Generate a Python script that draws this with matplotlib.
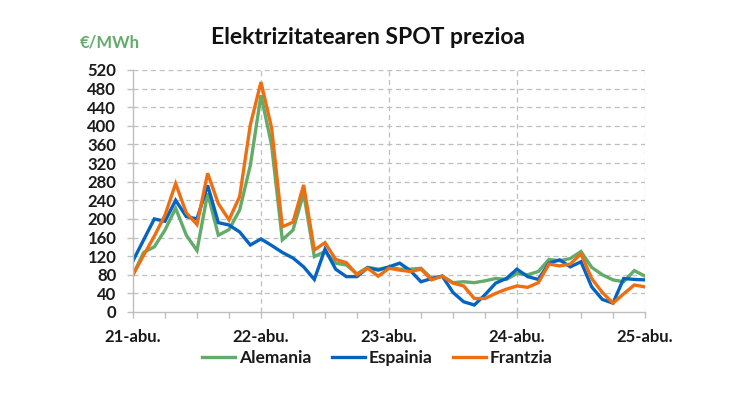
import matplotlib.pyplot as plt
import numpy as np

plt.rcParams['font.family'] = ['Lato', 'DejaVu Sans']

# two-hourly prices, 21-abu. 00:00 to 25-abu. 00:00 (49 points)
alemania = [80, 128, 140, 176, 223, 165, 132, 255, 165, 177, 219, 315, 466,
            358, 155, 176, 255, 119, 130, 105, 101, 82, 96, 92, 96,
            92, 92, 94, 72, 77, 63, 65, 63, 67, 72, 70, 83,
            80, 87, 113, 110, 115, 130, 96, 80, 69, 65, 89, 77]
espainia = [110, 155, 200, 195, 240, 205, 200, 272, 192, 187, 172, 144, 157,
            143, 128, 116, 97, 70, 135, 92, 76, 76, 95, 90, 97,
            105, 89, 65, 72, 77, 42, 22, 15, 37, 62, 72, 92,
            76, 70, 105, 112, 97, 108, 54, 27, 19, 72, 70, 69]
frantzia = [80, 122, 163, 208, 276, 213, 188, 298, 233, 198, 248, 402, 494,
            395, 183, 193, 273, 133, 149, 113, 106, 80, 94, 77, 94,
            90, 87, 92, 69, 77, 62, 56, 29, 29, 40, 49, 56,
            53, 63, 103, 99, 103, 125, 72, 42, 19, 39, 58, 54]
day_labels = ['21-abu.', '22-abu.', '23-abu.', '24-abu.', '25-abu.']

x = np.arange(len(alemania)) / 12

fig = plt.figure(figsize=(7.5, 4), dpi=100)
ax = fig.add_axes([0.1773, 0.22, 0.6827, 0.605])

ax.plot(x, alemania, color='#62AB6A', lw=2.4, label='Alemania', solid_joinstyle='miter')
ax.plot(x, espainia, color='#0563C1', lw=2.4, label='Espainia', solid_joinstyle='miter')
ax.plot(x, frantzia, color='#EE6F12', lw=2.4, label='Frantzia', solid_joinstyle='miter')

ax.set_xlim(0, 4)
ax.set_ylim(0, 520)
ax.set_yticks(range(0, 521, 40))
ax.set_xticks(range(5))
ax.set_xticklabels(day_labels)
ax.set_xticks(np.arange(0, 4.01, 0.25), minor=True)

for y in range(40, 521, 40):
    ax.axhline(y, color='#bfbfbf', lw=0.9, ls=(0, (4, 3)), zorder=0)
for d in range(1, 5):
    ax.axvline(d, color='#bfbfbf', lw=0.9, ls=(0, (4, 3)), zorder=0)

for s in ['top', 'right']:
    ax.spines[s].set_visible(False)
for s in ['left', 'bottom']:
    ax.spines[s].set_color('#bfbfbf')
    ax.spines[s].set_linewidth(1)

ax.tick_params(axis='both', which='both', color='#bfbfbf', length=4, width=1)
ax.tick_params(axis='y', pad=8, labelsize=12, labelcolor='#1a1a1a')
ax.tick_params(axis='x', pad=8, labelsize=12, labelcolor='#1a1a1a')
for lab in ax.get_xticklabels() + ax.get_yticklabels():
    lab.set_fontweight('bold')

fig.text(0.491, 0.905, 'Elektrizitatearen SPOT prezioa', ha='center', va='center',
         fontsize=16.5, fontweight='bold', color='#111111')
fig.text(0.107, 0.895, '€/MWh', ha='left', va='center',
         fontsize=12, fontweight='bold', color='#62AB6A')

leg = fig.legend(loc='center', bbox_to_anchor=(0.503, 0.105), ncol=3, frameon=False,
                 prop={'weight': 'bold', 'size': 12.5}, handlelength=1.9,
                 handletextpad=0.2, columnspacing=1.2)
for t in leg.get_texts():
    t.set_color('#1a1a1a')

fig.savefig('out.png', dpi=100)
